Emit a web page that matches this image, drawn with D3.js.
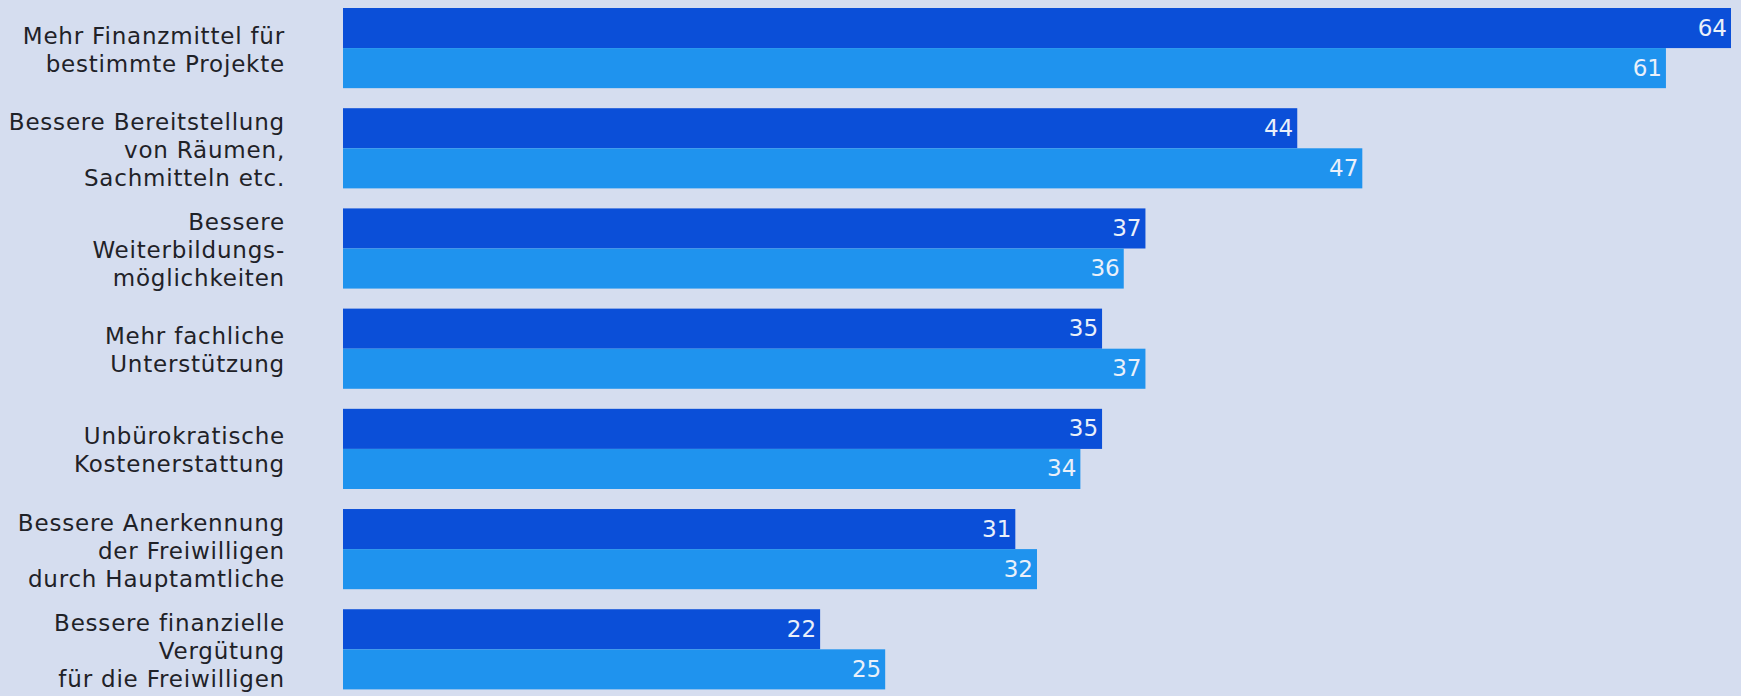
<!DOCTYPE html>
<html lang="de">
<head>
<meta charset="utf-8">
<script src="https://cdn.jsdelivr.net/npm/d3@7"></script>
<style>
  html, body { margin: 0; padding: 0; background: #d5ddef; }
  svg { display: block; }
  .cat { font-family: "DejaVu Sans", sans-serif; font-size: 23px; fill: #1f2228; letter-spacing: 0.8px; }
  .val { font-family: "DejaVu Sans", sans-serif; font-size: 23px; fill: #eaf0fa; }
</style>
</head>
<body>
<svg id="chart" width="1741" height="696"></svg>
<script>
// Categories (line breaks as in the printed labels)
const categories = [
  "Mehr Finanzmittel für\nbestimmte Projekte",
  "Bessere Bereitstellung\nvon Räumen,\nSachmitteln etc.",
  "Bessere\nWeiterbildungs-\nmöglichkeiten",
  "Mehr fachliche\nUnterstützung",
  "Unbürokratische\nKostenerstattung",
  "Bessere Anerkennung\nder Freiwilligen\ndurch Hauptamtliche",
  "Bessere finanzielle\nVergütung\nfür die Freiwilligen"
];

// Two series, in percent
const seriesKeys = ["a", "b"];
const valuesA = [64, 44, 37, 35, 35, 31, 22];
const valuesB = [61, 47, 36, 37, 34, 32, 25];

const colors = { a: "#0b4fd8", b: "#1f93ee" };

const rows = categories.map((c, i) => ({ cat: c, a: valuesA[i], b: valuesB[i] }));

const svg = d3.select("#chart");

const x = d3.scaleLinear()
  .domain([0, d3.max([...valuesA, ...valuesB])])
  .range([343, 1731]);

const y = d3.scaleBand()
  .domain(categories)
  .range([8, 689.4])
  .paddingInner(0.2)
  .paddingOuter(0);

const ySub = d3.scaleBand()
  .domain(seriesKeys)
  .range([0, y.bandwidth()])
  .padding(0);

const groups = svg.append("g")
  .selectAll("g.grp")
  .data(rows)
  .join("g")
  .attr("class", "grp")
  .attr("transform", d => `translate(0,${y(d.cat)})`);

const bars = groups.selectAll("g.bar")
  .data(d => seriesKeys.map(k => ({ key: k, value: d[k] })))
  .join("g")
  .attr("class", "bar");

bars.append("rect")
  .attr("x", x(0))
  .attr("y", d => ySub(d.key))
  .attr("width", d => x(d.value) - x(0))
  .attr("height", ySub.bandwidth())
  .attr("fill", d => colors[d.key]);

bars.append("text")
  .attr("class", "val")
  .attr("text-anchor", "end")
  .attr("x", d => x(d.value) - 4)
  .attr("y", d => ySub(d.key) + ySub.bandwidth() / 2 + 7.5)
  .text(d => d.value);

// Category labels, right-aligned, block centred on the group
const lineH = 28, capH = 17;
svg.append("g")
  .selectAll("text.cat")
  .data(rows)
  .join("text")
  .attr("class", "cat")
  .attr("text-anchor", "end")
  .each(function (d) {
    const lines = d.cat.split("\n");
    const center = y(d.cat) + y.bandwidth() / 2;
    const first = center - ((lines.length - 1) * lineH + capH) / 2 + capH + 1;
    d3.select(this).selectAll("tspan")
      .data(lines)
      .join("tspan")
      .attr("x", 285)
      .attr("y", (l, i) => first + i * lineH)
      .text(l => l);
  });
</script>
</body>
</html>
